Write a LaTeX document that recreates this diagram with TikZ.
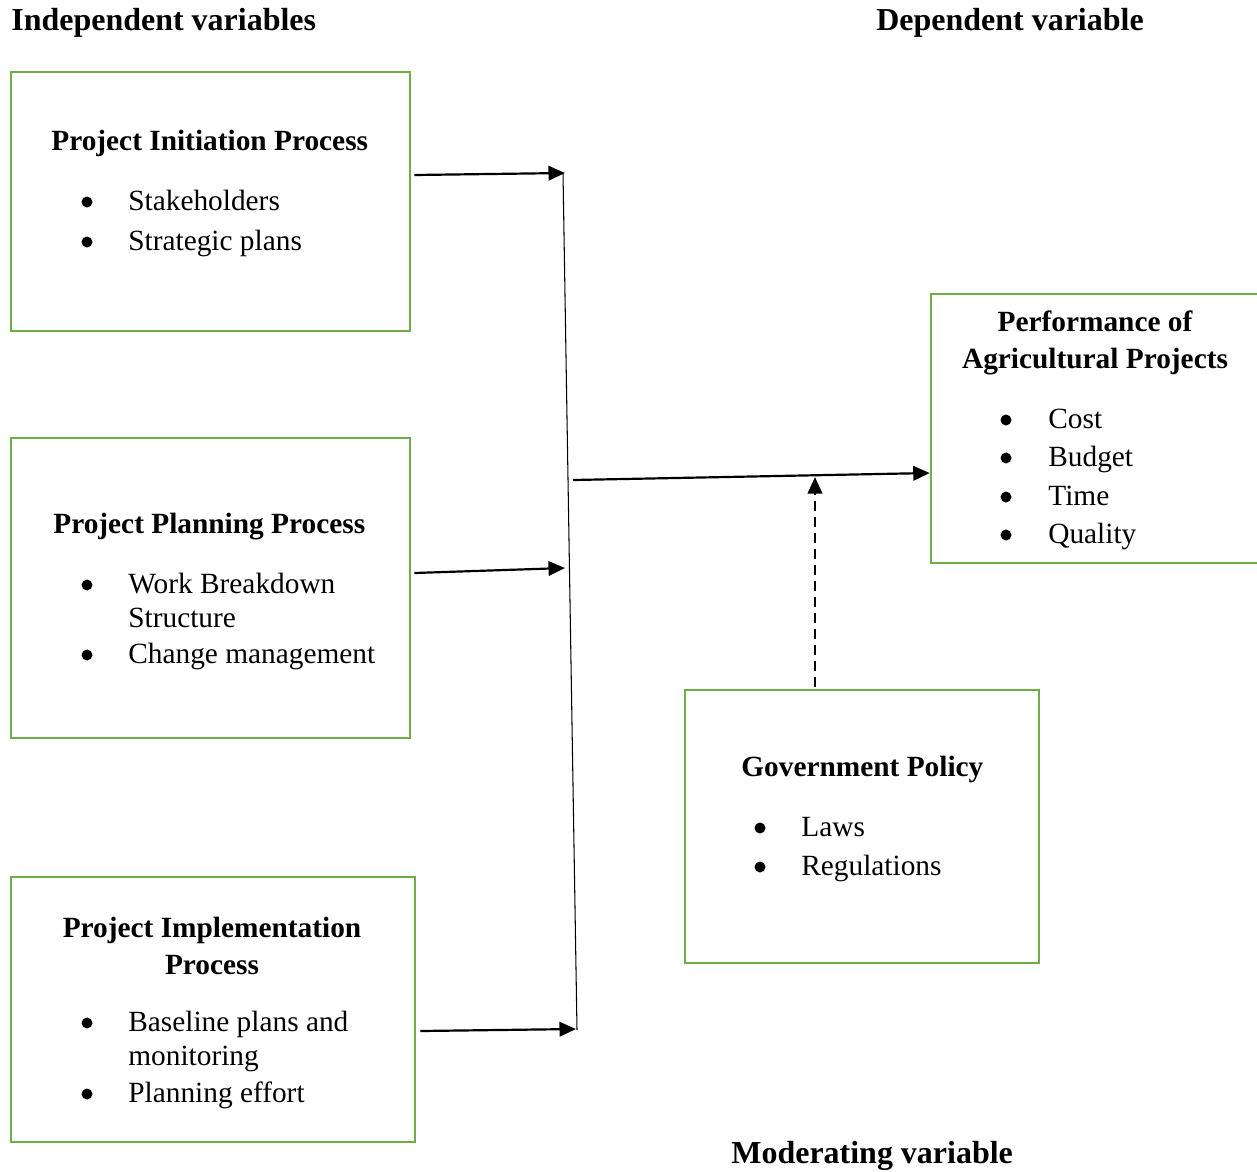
\documentclass[tikz,border=0pt]{standalone}
\usepackage{fontspec}
\setmainfont{Liberation Serif}
\usetikzlibrary{arrows.meta}
\definecolor{boxgreen}{RGB}{112,173,71}

\begin{document}
\begin{tikzpicture}[x=0.02cm,y=-0.02cm,
		every node/.style={inner sep=0pt,font=\fontsize{16.7}{19.3}\selectfont},
		varbox/.style={draw=boxgreen,line width=1.5pt},
		vartitle/.style={anchor=base west,font=\fontsize{18.2}{21}\selectfont\bfseries},
		hd/.style={anchor=base west,font=\fontsize{16.7}{19.3}\selectfont\bfseries},
		hdc/.style={anchor=base,font=\fontsize{16.7}{19.3}\selectfont\bfseries},
		itm/.style={anchor=base west},
		bul/.style={circle,fill,minimum size=0.22cm},
		arr/.style={line width=1.25pt,-{Triangle[length=0.33cm,width=0.29cm]}}]
					\useasboundingbox (0,0) rectangle (1257,1171);
					%HEADINGS
					\node[vartitle] (indep) at (11,30) {Independent variables};
					\node[vartitle] (dep) at (876,30) {Dependent variable};
					\node[vartitle] (moder) at (731,1163) {Moderating variable};
					
					%BOXES
					\node[varbox,minimum width=7.98cm,minimum height=5.18cm] (init) at (210.5,201.5) {};
					\node[varbox,minimum width=7.98cm,minimum height=6cm] (plan) at (210.5,588) {};
					\node[varbox,minimum width=8.08cm,minimum height=5.3cm] (impl) at (213,1009.5) {};
					\node[varbox,minimum width=6.62cm,minimum height=5.38cm] (perf) at (1096.5,428.5) {};
					\node[varbox,minimum width=7.08cm,minimum height=5.46cm] (gov) at (862,826.5) {};
					
					%initiation
					\node[hd] (initT) at (51,150) {Project Initiation Process};
					\node[bul] (initB1) at (87,202) {};
					\node[itm] (initI1) at (128,210) {Stakeholders};
					\node[bul] (initB2) at (87,242) {};
					\node[itm] (initI2) at (128,250) {Strategic plans};
					
					%planning
					\node[hd] (planT) at (53,533) {Project Planning Process};
					\node[bul] (planB1) at (87,585) {};
					\node[itm] (planI1) at (128,593) {Work Breakdown};
					\node[itm] (planI1b) at (128,627) {Structure};
					\node[bul] (planB2) at (87,655) {};
					\node[itm] (planI2) at (128,663) {Change management};
					
					%implementation
					\node[hdc] (implT) at (212,937) {Project Implementation};
					\node[hdc] (implTb) at (212,974) {Process};
					\node[bul] (implB1) at (87,1023) {};
					\node[itm] (implI1) at (128,1031) {Baseline plans and};
					\node[itm] (implI1b) at (128,1065) {monitoring};
					\node[bul] (implB2) at (87,1094) {};
					\node[itm] (implI2) at (128,1102) {Planning effort};
					
					%performance
					\node[hdc] (perfT) at (1095,331) {Performance of};
					\node[hdc] (perfTb) at (1095,368) {Agricultural Projects};
					\node[bul] (perfB1) at (1006,420) {};
					\node[itm] (perfI1) at (1048,428) {Cost};
					\node[bul] (perfB2) at (1006,458) {};
					\node[itm] (perfI2) at (1048,466) {Budget};
					\node[bul] (perfB3) at (1006,497) {};
					\node[itm] (perfI3) at (1048,505) {Time};
					\node[bul] (perfB4) at (1006,535) {};
					\node[itm] (perfI4) at (1048,543) {Quality};
					
					%government
					\node[hd] (govT) at (741,776) {Government Policy};
					\node[bul] (govB1) at (760,828) {};
					\node[itm] (govI1) at (801,836) {Laws};
					\node[bul] (govB2) at (760,867) {};
					\node[itm] (govI2) at (801,875) {Regulations};
					
					%CONNECTORS
					\coordinate (bustop) at (563,173);
					\coordinate (busbot) at (577,1030);
					\coordinate (busmid) at (573,480);
					\coordinate (in1) at (565,173);
					\coordinate (in2) at (565,568);
					\coordinate (in3) at (576,1029);
					\coordinate (modin) at (815,477);
					\draw[line width=0.6pt] (bustop) -- (busbot);
					\draw[arr] ([shift={(3,-26.5)}]init.east) -- (in1);
					\draw[arr] ([shift={(3,-15)}]plan.east) -- (in2);
					\draw[arr] ([shift={(4,21.5)}]impl.east) -- (in3);
					\draw[arr] (busmid) -- ([shift={(0,44.5)}]perf.west);
					\draw[arr,dash pattern=on 0.2cm off 0.12cm] ([shift={(-47,-2)}]gov.north) -- (modin);
					
				  \end{tikzpicture}
\end{document}
